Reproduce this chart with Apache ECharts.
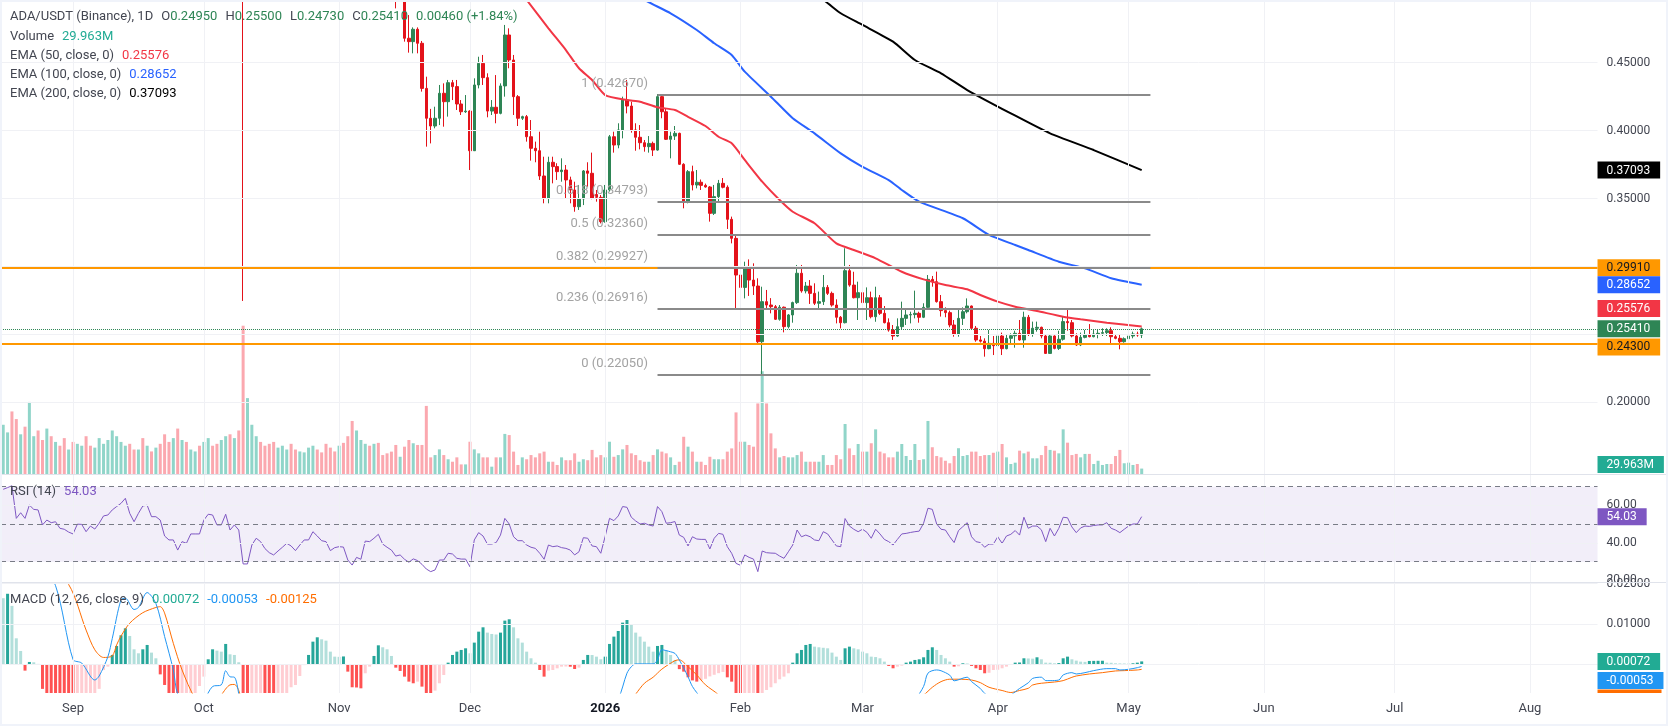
<!DOCTYPE html>
<html>
<head>
<meta charset="utf-8">
<script src="https://cdn.jsdelivr.net/npm/echarts@6/dist/echarts.min.js"></script>
<style>
  html, body { margin: 0; padding: 0; background: #fff; }
  #chart { position: absolute; left: 0; top: 0; width: 1668px; height: 726px; }
  #frame { position: absolute; left: 0; top: 0; width: 1668px; height: 726px; box-sizing: border-box; border: 2px solid #f0f3fa; pointer-events: none; }
</style>
</head>
<body>
<div id="chart"></div>
<div id="frame"></div>
<script>
// daily candles from 2025-08-16, [open, high, low, close]
const firstDay = '2025-08-16';
const axisDays = 366;

const candles = [
  [.920,.945,.915,.930],[.930,.955,.925,.948],[.948,.952,.905,.912],[.912,.918,.850,.862],[.862,.905,.858,.898],
  [.898,.910,.880,.889],[.889,.935,.885,.928],[.928,.940,.915,.932],[.932,.936,.900,.912],[.912,.915,.850,.862],
  [.862,.880,.855,.870],[.870,.878,.842,.852],[.852,.868,.845,.861],[.861,.864,.815,.823],[.823,.830,.808,.818],
  [.818,.828,.812,.822],[.822,.826,.790,.800],[.800,.825,.796,.818],[.818,.838,.812,.830],[.830,.834,.815,.822],
  [.822,.828,.810,.818],[.818,.826,.812,.820],[.820,.836,.814,.830],[.830,.866,.826,.860],[.860,.872,.852,.862],
  [.862,.880,.855,.872],[.872,.888,.865,.880],[.880,.910,.876,.902],[.902,.925,.895,.918],[.918,.920,.884,.892],
  [.892,.896,.862,.871],[.871,.886,.866,.880],[.880,.888,.870,.878],[.878,.920,.872,.912],[.912,.915,.862,.870],
  [.870,.884,.864,.878],[.878,.882,.852,.860],[.860,.862,.800,.810],[.810,.822,.798,.808],[.808,.828,.802,.820],
  [.820,.824,.765,.772],[.772,.796,.768,.790],[.790,.796,.780,.788],[.788,.814,.784,.808],[.808,.818,.800,.810],
  [.810,.814,.782,.790],[.790,.836,.786,.830],[.830,.860,.826,.852],[.852,.862,.840,.850],[.850,.854,.826,.832],
  [.832,.848,.828,.840],[.840,.876,.836,.868],[.868,.872,.815,.822],[.822,.836,.816,.828],[.828,.832,.782,.790],
  [.790,.800,.2746,.632],[.632,.690,.610,.662],[.662,.725,.655,.712],[.712,.730,.700,.718],[.718,.722,.690,.700],
  [.700,.706,.655,.662],[.662,.668,.630,.640],[.640,.648,.600,.612],[.612,.636,.606,.628],[.628,.650,.622,.642],
  [.642,.660,.636,.652],[.652,.656,.624,.630],[.630,.636,.610,.618],[.618,.646,.614,.640],[.640,.658,.634,.652],
  [.652,.668,.646,.662],[.662,.678,.656,.670],[.670,.674,.650,.658],[.658,.662,.634,.640],[.640,.648,.630,.638],
  [.638,.642,.605,.612],[.612,.618,.600,.608],[.608,.620,.602,.612],[.612,.615,.584,.590],[.590,.594,.545,.552],
  [.552,.560,.520,.540],[.540,.550,.530,.542],[.542,.560,.536,.552],[.552,.580,.548,.572],[.572,.582,.560,.568],
  [.568,.598,.562,.590],[.590,.594,.555,.562],[.562,.570,.535,.540],[.540,.548,.518,.525],[.525,.532,.500,.505],
  [.505,.512,.490,.500],[.500,.512,.4975,.508],[.508,.513,.4655,.4680],[.4680,.4851,.4574,.4655],[.4655,.4760,.4569,.4746],
  [.4746,.4760,.4569,.4643],[.4643,.4660,.4287,.4311],[.4311,.4397,.3882,.4091],[.4091,.4160,.3906,.4034],[.4034,.4176,.4017,.4091],
  [.4091,.4336,.4041,.4275],[.4275,.4348,.4029,.4213],[.4213,.4373,.4103,.4353],[.4353,.4373,.4225,.4324],[.4324,.4373,.4152,.4196],
  [.4196,.4225,.4115,.4139],[.4139,.4262,.4130,.4144],[.4144,.4150,.3710,.3852],[.3852,.4385,.3850,.4336],[.4336,.4544,.4311,.4495],
  [.4495,.4557,.4336,.4390],[.4390,.4422,.4098,.4144],[.4144,.4225,.4115,.4172],[.4172,.4409,.4054,.4127],[.4127,.4348,.4120,.4329],
  [.4329,.4778,.4250,.4704],[.4704,.4753,.4459,.4520],[.4520,.4557,.4115,.4250],[.4250,.4262,.4034,.4091],[.4091,.4110,.4078,.4103],
  [.4103,.4115,.3919,.3955],[.3955,.4078,.3779,.3870],[.3870,.3919,.3767,.3852],[.3852,.3992,.3637,.3666],[.3666,.3808,.3465,.3502],
  [.3502,.3808,.3465,.3767],[.3767,.3808,.3612,.3735],[.3735,.3760,.3637,.3698],[.3698,.3796,.3624,.3710],[.3710,.3747,.3502,.3637],
  [.3637,.3661,.3465,.3563],[.3563,.3624,.3403,.3440],[.3440,.3600,.3416,.3497],[.3497,.3710,.3452,.3703],[.3703,.3767,.3587,.3686],
  [.3686,.3838,.3495,.3502],[.3530,.3563,.3477,.3509],[.3509,.3526,.3317,.3330],[.3330,.3600,.3322,.3563],[.3563,.3968,.3551,.3955],
  [.3955,.3992,.3838,.3894],[.3894,.4054,.3870,.4005],[.4005,.4250,.3943,.4225],[.4225,.4373,.4127,.4181],[.4181,.4213,.3985,.4005],
  [.4005,.4054,.3852,.3951],[.3951,.4041,.3862,.3911],[.3911,.3931,.3845,.3882],[.3882,.3960,.3838,.3906],[.3906,.3919,.3813,.3857],
  [.3857,.4269,.3852,.4250],[.4250,.4262,.4091,.4139],[.4139,.4164,.3931,.3936],[.3936,.3992,.3796,.3960],[.3960,.4034,.3931,.3980],
  [.3980,.3985,.3747,.3752],[.3752,.3760,.3428,.3477],[.3477,.3710,.3465,.3698],[.3698,.3742,.3560,.3600],[.3600,.3710,.3575,.3620],
  [.3620,.3640,.3563,.3597],[.3597,.3610,.3580,.3585],[.3585,.3592,.3330,.3391],[.3391,.3600,.3379,.3514],[.3514,.3637,.3477,.3612],
  [.3612,.3651,.3575,.3583],[.3583,.3597,.3276,.3347],[.3347,.3367,.3170,.3207],[.3207,.3232,.2687,.2937],[.2937,.3011,.2790,.2846],
  [.2846,.3035,.2765,.2998],[.2998,.3052,.2783,.2900],[.2900,.3023,.2790,.2856],[.2856,.2913,.2434,.2446],[.2446,.2851,.2205,.2741],
  [.2741,.2827,.2680,.2716],[.2716,.2767,.2655,.2704],[.2704,.2716,.2606,.2611],[.2611,.2716,.2601,.2700],[.2700,.2705,.2515,.2557],
  [.2557,.2650,.2544,.2643],[.2643,.2741,.2586,.2734],[.2734,.3011,.2724,.2950],[.2950,.3011,.2807,.2820],[.2820,.2886,.2802,.2856],
  [.2856,.2900,.2724,.2802],[.2802,.2876,.2716,.2729],[.2729,.2815,.2680,.2741],[.2741,.2937,.2716,.2846],[.2846,.2863,.2790,.2802],
  [.2802,.2815,.2704,.2716],[.2716,.2758,.2581,.2626],[.2626,.2635,.2544,.2586],[.2586,.3134,.2581,.2969],[.2969,.3011,.2851,.2863],
  [.2863,.2961,.2765,.2770],[.2770,.2888,.2606,.2807],[.2807,.2851,.2716,.2734],[.2734,.2846,.2606,.2770],[.2770,.2815,.2618,.2630],
  [.2630,.2851,.2593,.2770],[.2770,.2790,.2643,.2655],[.2655,.2709,.2581,.2586],[.2586,.2618,.2520,.2532],[.2532,.2569,.2459,.2488],
  [.2488,.2618,.2483,.2557],[.2557,.2741,.2537,.2618],[.2618,.2680,.2569,.2643],[.2643,.2667,.2581,.2646],[.2646,.2822,.2618,.2655],
  [.2655,.2667,.2586,.2626],[.2626,.2729,.2620,.2699],[.2699,.2937,.2684,.2905],[.2905,.2930,.2851,.2888],[.2888,.2962,.2734,.2741],
  [.2741,.2790,.2631,.2675],[.2675,.2699,.2626,.2660],[.2660,.2675,.2552,.2569],[.2569,.2606,.2483,.2503],[.2503,.2680,.2483,.2618],
  [.2618,.2699,.2569,.2667],[.2667,.2765,.2655,.2709],[.2709,.2712,.2537,.2545],[.2545,.2562,.2446,.2459],[.2459,.2488,.2440,.2450],
  [.2450,.2471,.2336,.2395],[.2395,.2532,.2390,.2434],[.2434,.2488,.2348,.2417],[.2417,.2545,.2410,.2488],[.2488,.2513,.2348,.2395],
  [.2395,.2503,.2390,.2471],[.2471,.2508,.2434,.2490],[.2490,.2527,.2402,.2508],[.2508,.2606,.2454,.2459],[.2459,.2667,.2402,.2626],
  [.2626,.2643,.2488,.2503],[.2503,.2594,.2483,.2545],[.2545,.2594,.2520,.2552],[.2552,.2557,.2471,.2488],[.2488,.2495,.2356,.2360],
  [.2360,.2495,.2356,.2488],[.2488,.2493,.2390,.2397],[.2397,.2527,.2385,.2464],[.2464,.2635,.2454,.2594],[.2594,.2680,.2527,.2586],
  [.2586,.2606,.2478,.2488],[.2488,.2508,.2415,.2422],[.2422,.2513,.2414,.2478],[.2478,.2532,.2471,.2495],[.2495,.2576,.2478,.2483],
  [.2483,.2532,.2478,.2503],[.2503,.2537,.2471,.2508],[.2508,.2545,.2488,.2513],[.2513,.2545,.2488,.2527],[.2527,.2552,.2429,.2483],
  [.2483,.2503,.2464,.2471],[.2471,.2503,.2390,.2446],[.2446,.2478,.2439,.2468],[.2468,.2520,.2459,.2488],[.2488,.2520,.2471,.2503],
  [.2503,.2520,.2483,.2495],[.2495,.2550,.2473,.2541]
];

// volume in millions
const volumeM = [
  260,220,330,290,210,250,380,200,230,180, 240,200,170,150,190,130,170,160,150,200,
  150,140,190,160,180,230,200,170,150,160, 130,130,190,150,120,140,160,210,170,190,
  240,180,170,130,120,150,170,190,150,160, 180,200,210,190,230,780,400,260,200,170,
  150,160,170,140,150,130,160,130,120,115, 140,150,130,115,160,140,120,150,165,200,
  280,230,180,160,150,160,165,
  101,110,119,154,92,145,180,163,154,154, 359,89,101,131,101,79,66,89,52,52,
  171,131,110,89,89,40,89,89,212,206, 119,49,89,79,101,89,110,119,66,66,
  49,89,74,74,110,66,79,74,128,89, 101,89,171,92,101,131,154,110,101,74,
  66,66,101,131,119,110,89,49,66,197, 145,119,66,66,49,92,79,79,79,119,
  136,325,171,171,154,145,372,541,372,215, 136,89,96,89,89,101,119,66,66,66,
  66,101,49,49,101,79,264,136,101,159, 119,119,163,236,119,110,89,89,119,
  159,96,75,159,75,79,280,142,96,89, 71,58,96,137,96,101,119,119,96,101,
  101,113,119,159,89,54,61,124,110,119, 84,84,101,149,128,124,110,236,166,101,
  107,89,107,107,54,71,49,54,54,96, 128,58,61,49,54,29.963
];

const rsi14 = [
  68.6,69.5,70.5,53.1,56.1,53.1,60.2,57.9,57.6,49.6, 52.2,50.8,51.3,47.8,47.3,45.8,44.8,50.0,49.9,46.0,
  49.0,47.4,50.5,54.4,54.9,57.6,59.4,61.1,63.8,55.8, 51.3,55.8,59.7,60.1,54.0,54.0,52.2,43.7,41.6,41.6,
  36.2,40.7,39.8,44.8,44.8,44.8,52.2,55.3,54.9,49.6, 49.6,55.3,46.9,49.6,46.9,28.8,28.8,38.9,42.5,40.7,
  37.0,34.8,33.6,35.7,37.7,39.8,38.4,35.9,38.9,41.6, 41.6,46.0,43.7,41.2,40.7,35.9,37.5,38.0,37.8,30.9,
  28.2,32.3,31.3,41.0,40.7,42.5,44.6,39.4,37.7,36.2, 33.0,33.6,31.3,29.7,31.5,30.6,28.6,26.1,24.7,25.6,
  30.9,30.9,34.5,34.1,31.8,31.4,31.4,27.3,41.6,45.5, 43.7,39.4,39.4,40.2,44.2,53.1,50.1,43.3,41.2,41.2,
  38.9,37.7,37.1,34.5,31.3,38.9,38.0,38.4,37.5,37.1, 36.2,33.6,35.3,42.8,42.5,38.4,38.0,34.5,43.5,53.1,
  51.9,54.4,59.4,59.0,53.7,51.7,50.1,50.5,49.6,49.0, 59.4,56.7,50.5,50.8,51.4,44.2,43.0,38.4,43.3,42.1,
  41.9,41.9,36.8,42.5,45.1,44.6,38.0,34.5,29.1,28.1, 33.6,32.3,31.4,24.7,35.7,34.8,34.6,34.5,33.0,31.8,
  35.3,38.9,46.9,43.3,44.2,43.3,41.6,41.2,46.0,44.8, 41.6,38.4,38.0,53.0,49.0,47.3,46.0,47.3,45.7,42.5,
  47.3,44.8,41.9,40.7,38.9,41.9,44.8,45.1,45.6,46.0, 46.3,50.5,58.5,57.9,50.1,47.3,46.9,43.3,40.2,46.6,
  48.7,50.8,43.3,40.7,40.2,37.7,39.4,39.4,43.3,39.8, 43.7,44.6,46.6,44.2,53.7,47.8,49.0,49.0,47.0,40.7,
  47.8,43.7,47.8,53.7,53.4,48.5,45.5,48.0,49.0,48.8, 49.3,49.6,49.6,50.8,47.8,46.9,45.5,47.3,49.0,50.1,
  50.1,54.03
];

// MACD (12, 26, 9) values in thousandths
const macdHistMilli = [
  16.4,17.5,14.5,6.45,3.31,-1.57,0.58,0.5,0.1,-6.1, -8.5,-10.2,-11.6,-12.8,-13.9,-14.6,-15.1,-14.3,-13.2,-12.0,
  -10.6,-8.6,-6.1,-1.4,-0.58,2.32,4.55,7.2,8.93,7.03, 3.72,2.73,3.72,4.8,2.9,1.49,-2.5,-5.13,-8.5,-10.5,
  -12.0,-11.2,-10.0,-8.8,-7.6,-5.38,-3.06,1.24,3.72,3.39, 3.14,5.05,2.48,2.32,0.5,-9.0,-14.0,-13.0,-12.0,-11.0,
  -12.5,-13.5,-14.2,-13.0,-11.0,-8.5,-5.7,-5.13,-2.9,-0.2, 2.32,5.62,6.7,6.2,5.87,3.14,1.9,1.85,1.95,-1.82,
  -5.7,-5.75,-5.96,-2.23,-0.58,2.07,4.71,4.22,3.72,2.07, -0.83,-1.65,-3.06,-4.3,-4.71,-4.3,-5.54,-7.8,-8.2,-6.53,
  -4.71,-2.65,0.41,2.32,3.14,3.56,3.97,2.73,5.38,8.1, 9.18,7.86,7.53,7.4,7.86,10.84,11.17,9.18,6.45,5.38,
  3.14,1.49,0.41,-1.41,-3.06,-1.57,-1.41,-1.0,-0.58,-0.55, -0.6,-1.16,-0.83,1.08,2.32,2.3,1.9,1.24,1.9,5.05,
  6.87,8.27,10.34,11.0,9.76,7.86,6.87,5.62,4.38,3.14, 4.55,4.8,3.39,2.32,1.08,-1.2,-1.82,-3.23,-4.0,-4.3,
  -4.0,-3.6,-3.0,-2.6,-2.2,-1.9,-3.23,-4.3,-8.0,-9.5, -9.0,-8.6,-8.2,-10.0,-9.0,-6.37,-5.7,-4.71,-3.72,-3.06,
  -2.23,0.41,2.73,3.56,4.8,5.05,4.38,4.22,4.1,3.97, 2.9,1.9,1.08,3.97,4.38,3.97,3.72,3.14,2.73,1.9,
  1.8,1.49,0.66,-0.41,-0.99,-0.58,-0.33,0.41,0.66,1.08, 1.24,1.74,3.56,4.22,3.56,2.32,1.49,0.66,-0.58,-0.5,
  0.25,0.2,-0.41,-0.99,-1.41,-2.23,-2.1,-1.41,-1.35,-0.99, -0.58,-0.17,0.41,0.45,1.49,1.45,1.4,1.74,1.24,0.41,
  0.38,0.25,0.3,1.49,1.9,1.24,0.91,0.66,0.6,0.83, 0.85,0.87,0.88,0.41,0.38,0.25,0.22,0.2,0.18,0.25,
  0.41,0.72
];

// [day index, value in thousandths]
const macdLineMilli = [
  [0,38],[4,33],[8,26],[12,19.5],[16,1.2],[18,0.3],[21,-3.9],[22,-2.9],[24,1.9],[25,6.4],[27,16.0],[28,16.4],
  [30,13.6],[31,14.1],[33,17.8],[35,15.1],[37,6.9],[39,-1.4],[40,-7.4],[43,-13],[46,-9],[48,-5.5],[50,-5.1],
  [51,-1.6],[52,-3.1],[53,-3.2],[54,-7.4],[56,-22],[70,-40],[90,-35],[110,-30],[125,-20],[138,-12],[141,-8.5],
  [143,-2.2],[144,-0.6],[145,0.1],[149,0.1],[150,1.1],[151,3.6],[153,3.1],[154,2.7],[155,1.1],[157,-3.1],
  [158,-5.5],[160,-8.5],[170,-25],[190,-15],[205,-10],[209,-8.5],[211,-5.5],[212,-2.2],[214,-1.4],[215,-1.6],
  [217,-2.7],[218,-4.1],[221,-3.2],[222,-4.3],[224,-6.0],[225,-7.2],[228,-9],[231,-7.6],[233,-6.0],[235,-4.6],
  [236,-3.5],[238,-3.2],[239,-4.05],[240,-4.05],[242,-3.9],[243,-2.65],[245,-2.07],[246,-2.4],[248,-2.07],
  [250,-1.57],[253,-1.08],[255,-1.08],[256,-1.41],[258,-1.24],[260,-0.83],[261,-0.53]
];
const signalLineMilli = [
  [0,30],[5,28],[10,24],[15,19.8],[19,8.5],[21,3.6],[23,1.7],[25,2.1],[26,4.8],[27,7.0],[29,10.2],[32,12.8],
  [35,14.1],[36,14.3],[37,12.7],[39,5.2],[41,-1.4],[44,-8.5],[47,-12],[50,-7.6],[52,-5.1],[53,-5.0],[54,-6.5],
  [56,-14],[70,-35],[90,-36],[110,-33],[125,-24],[138,-17],[144,-9],[145,-7.4],[147,-4.7],[149,-3.2],[151,-1.2],
  [154,0.9],[155,1.1],[157,-0.6],[159,-2.65],[161,-5.1],[164,-7.6],[170,-15],[190,-14],[205,-11],[211,-7.6],
  [213,-5.7],[215,-4.3],[217,-3.7],[219,-3.7],[222,-3.9],[224,-4.55],[226,-5.7],[229,-6.5],[231,-7.0],[233,-6.5],
  [235,-5.96],[236,-5.13],[238,-4.7],[241,-4.4],[243,-4.05],[245,-3.23],[246,-2.9],[249,-2.4],[252,-2.07],
  [255,-1.65],[257,-1.57],[260,-1.41],[261,-1.25]
];

// EMA curves, [day index, price]
const ema50Points = [
  [116,0.5120],[120,0.4962],[125,0.4753],[129,0.4593],[132,0.4459],[135,0.4373],[138,0.4262],[143,0.4225],
  [146,0.4213],[150,0.4172],[154,0.4152],[157,0.4102],[161,0.4034],[164,0.3955],[167,0.3907],[170,0.3784],
  [174,0.3624],[178,0.3489],[181,0.3403],[186,0.3318],[191,0.3170],[195,0.3121],[200,0.3060],[206,0.2961],
  [211,0.2905],[216,0.2863],[221,0.2832],[224,0.2790],[228,0.2741],[232,0.2704],[237,0.2672],[243,0.2630],
  [247,0.2611],[253,0.2586],[261,0.25576]
];
const ema100Points = [
  [143,0.5050],[147,0.4962],[153,0.4864],[159,0.4741],[163,0.4643],[167,0.4557],[170,0.4434],[176,0.4250],
  [181,0.4091],[186,0.3980],[192,0.3833],[197,0.3734],[203,0.3636],[206,0.3563],[210,0.3477],[220,0.3355],
  [226,0.3232],[232,0.3158],[235,0.3121],[242,0.3035],[248,0.2986],[254,0.2913],[261,0.28652]
];
const ema200Points = [
  [183,0.5040],[188,0.4962],[192,0.4864],[197,0.4778],[204,0.4655],[209,0.4520],[215,0.4422],[221,0.4299],
  [231,0.4127],[240,0.3980],[250,0.3857],[261,0.37093]
];

// drawings
const fibLevels = [1, 0.618, 0.5, 0.382, 0.236, 0];
const fibPrices = [0.42670, 0.34793, 0.32360, 0.29927, 0.26916, 0.22050];
const fibStart = '2026-01-13';
const fibEnd = '2026-05-06';
const hLevels = [0.29910, 0.24300];

// axis ticks
const priceTicks = [0.20, 0.35, 0.40, 0.45];
const priceGridLines = [0.20, 0.25, 0.30, 0.35, 0.40, 0.45];
const rsiTicks = [20, 40, 60];
const macdTicks = [0.01, 0.02];
const macdGridLines = [0, 0.01, 0.02];

const FONT = 'Roboto, "Noto Sans", sans-serif';
const UP = '#2e8555';
const DOWN = '#e3121a';
const VOL_UP = 'rgba(34,171,148,0.5)';
const VOL_DOWN = 'rgba(247,82,95,0.5)';
const GRID_COLOR = '#f0f1f5';
const AXIS_TEXT = '#434651';
const LEGEND_TEXT = '#434651';
const ORANGE = '#ff9800';
const MONTHS = ['Jan', 'Feb', 'Mar', 'Apr', 'May', 'Jun', 'Jul', 'Aug', 'Sep', 'Oct', 'Nov', 'Dec'];

const dayMs = 86400000;
const t0 = Date.parse(firstDay + 'T00:00:00Z');
const dates = [];
for (let i = 0; i < axisDays; i++) {
  dates.push(new Date(t0 + i * dayMs).toISOString().slice(0, 10));
}
const monthStarts = dates.filter((d) => d.endsWith('-01'));

// pane layout (px) and scales
const GRID_LEFT = 1.03;
const GRID_WIDTH = axisDays * 4.362;
const panes = [
  { top: 0, height: 474.3, min: 0.14700, max: 0.49616 },     // price
  { top: 274.3, height: 200, min: 0, max: 1050 },             // volume overlay
  { top: 474.3, height: 108.4, min: 18.8, max: 76.6 },        // rsi
  { top: 582.7, height: 110.3, min: -0.007122, max: 0.020248 } // macd
];
// move a value by some pixels on a pane's scale (for nudging value boxes)
const nudge = (pane, value, px) => value - px * (panes[pane].max - panes[pane].min) / panes[pane].height;

const last = candles[candles.length - 1];
const prevClose = candles[candles.length - 2][3];
const lastClose = last[3];
const lastOf = (pts) => pts[pts.length - 1][1];
const ema50Last = lastOf(ema50Points);
const ema100Last = lastOf(ema100Points);
const ema200Last = lastOf(ema200Points);
const rsiLast = rsi14[rsi14.length - 1];
const histLast = macdHistMilli[macdHistMilli.length - 1] / 1000;
const macdLast = lastOf(macdLineMilli) / 1000;
const signalLast = lastOf(signalLineMilli) / 1000;
const volLast = volumeM[volumeM.length - 1];

const hidden = { color: 'rgba(0,0,0,0)', width: 0 };

// value box on the right-hand scale
function valueBox(y, text, bg, fg, extra) {
  return {
    yAxis: y,
    lineStyle: hidden,
    label: {
      show: true, position: 'end', distance: 0,
      formatter: '{b|' + text + '}',
      rich: {
        b: Object.assign({
          backgroundColor: bg, color: fg, fontFamily: FONT, fontSize: 12, lineHeight: 12,
          padding: [3, 10, 2, 9]
        }, extra || {})
      }
    }
  };
}

// precision is raised so small MACD / price values are not rounded to 2 decimals
function marks(data) {
  return { silent: true, symbol: ['none', 'none'], animation: false, precision: 10, label: { show: false }, data };
}

function gridMarkLine(values) {
  const data = values.map((v) => ({ yAxis: v }));
  monthStarts.forEach((d) => data.push({ xAxis: d }));
  return {
    silent: true, symbol: ['none', 'none'], animation: false, precision: 10,
    label: { show: false },
    lineStyle: { color: GRID_COLOR, width: 1, type: 'solid' },
    data
  };
}

function histColor(i) {
  const v = macdHistMilli[i];
  const p = i > 0 ? macdHistMilli[i - 1] : v;
  if (v >= 0) return v > p ? '#26a69a' : '#b2dfdb';
  return v < p ? '#ff5252' : '#ffcdd2';
}

function xAxisFor(gridIndex) {
  const withLabels = gridIndex === 3;
  return {
    type: 'category', gridIndex, data: dates, boundaryGap: true,
    axisLine: { show: false }, axisTick: { show: false }, splitLine: { show: false },
    axisLabel: withLabels ? {
      show: true,
      interval: (i) => dates[i].endsWith('-01'),
      formatter: (v) => {
        const m = +v.slice(5, 7);
        return m === 1 ? '{y|' + v.slice(0, 4) + '}' : MONTHS[m - 1];
      },
      color: AXIS_TEXT, fontFamily: FONT, fontSize: 13, margin: 9,
      rich: { y: { fontWeight: 'bold', color: '#131722', fontFamily: FONT, fontSize: 13 } }
    } : { show: false }
  };
}

function yAxisFor(gridIndex, ticks, digits) {
  return {
    type: 'value', gridIndex, position: 'right', min: panes[gridIndex].min, max: panes[gridIndex].max,
    axisLine: { show: false }, axisTick: { show: false }, splitLine: { show: false },
    axisLabel: ticks ? {
      show: true, customValues: ticks, formatter: (v) => v.toFixed(digits),
      color: AXIS_TEXT, fontFamily: FONT, fontSize: 12, margin: 9
    } : { show: false }
  };
}

// fib retracement: grey segments, labels sit ~11px above each segment start
const fibMarks = [];
fibLevels.forEach((lvl, i) => {
  const p = fibPrices[i];
  const style = { color: '#8a8a8a', width: 2, type: 'solid' };
  fibMarks.push([
    { coord: [fibStart, p], lineStyle: style, label: { show: false } },
    { coord: [fibEnd, p], lineStyle: style, label: { show: false } }
  ]);
  const ly = nudge(0, p, -10.7);
  const label = {
    show: true, position: 'start', distance: 9.5,
    formatter: lvl + ' (' + p.toFixed(5) + ')',
    color: '#a3a3a3', fontFamily: FONT, fontSize: 13
  };
  fibMarks.push([
    { coord: [fibStart, ly], lineStyle: hidden, label },
    { coord: [fibEnd, ly], lineStyle: hidden, label }
  ]);
});

const option = {
  animation: false,
  textStyle: { fontFamily: FONT },
  grid: panes.map((p) => ({ left: GRID_LEFT, width: GRID_WIDTH, top: p.top, height: p.height })),
  xAxis: [0, 1, 2, 3].map(xAxisFor),
  yAxis: [
    yAxisFor(0, priceTicks, 5),
    yAxisFor(1, null, 0),
    yAxisFor(2, rsiTicks, 2),
    yAxisFor(3, macdTicks, 5)
  ],
  series: [
    { type: 'line', xAxisIndex: 0, yAxisIndex: 0, data: [], z: 0, silent: true, markLine: gridMarkLine(priceGridLines) },
    { type: 'line', xAxisIndex: 2, yAxisIndex: 2, data: [], z: 0, silent: true, markLine: gridMarkLine([40, 60]) },
    { type: 'line', xAxisIndex: 3, yAxisIndex: 3, data: [], z: 0, silent: true, markLine: gridMarkLine(macdGridLines) },
    {
      name: 'Volume', type: 'bar', xAxisIndex: 1, yAxisIndex: 1, barWidth: 3, z: 1,
      data: volumeM.map((v, i) => ({
        value: v,
        itemStyle: { color: candles[i][3] >= candles[i][0] ? VOL_UP : VOL_DOWN }
      })),
      markLine: marks([valueBox(nudge(1, volLast, -4), volLast.toFixed(3) + 'M', '#22ab94', '#fff')])
    },
    {
      name: 'ADA/USDT', type: 'candlestick', xAxisIndex: 0, yAxisIndex: 0, barWidth: 3, z: 3,
      data: candles.map(([o, h, l, c]) => [o, c, l, h]),
      itemStyle: { color: UP, color0: DOWN, borderColor: UP, borderColor0: DOWN, borderColorDoji: UP, borderWidth: 1 },
      markLine: marks([
        { yAxis: hLevels[0], lineStyle: { color: ORANGE, width: 2, type: 'solid' } },
        { yAxis: hLevels[1], lineStyle: { color: ORANGE, width: 2, type: 'solid' } },
        { yAxis: lastClose, lineStyle: { color: UP, width: 1, type: 'dotted' } },
        valueBox(hLevels[0], hLevels[0].toFixed(5), ORANGE, '#131722'),
        valueBox(nudge(0, hLevels[1], 3), hLevels[1].toFixed(5), ORANGE, '#131722'),
        valueBox(lastClose, lastClose.toFixed(5), UP, '#fff')
      ].concat(fibMarks))
    },
    {
      name: 'EMA 200', type: 'line', xAxisIndex: 0, yAxisIndex: 0, data: ema200Points, z: 4,
      showSymbol: false, smooth: 0.2, lineStyle: { color: '#000', width: 2 },
      markLine: marks([valueBox(ema200Last, ema200Last.toFixed(5), '#000', '#fff')])
    },
    {
      name: 'EMA 100', type: 'line', xAxisIndex: 0, yAxisIndex: 0, data: ema100Points, z: 4,
      showSymbol: false, smooth: 0.2, lineStyle: { color: '#2962ff', width: 2 },
      markLine: marks([valueBox(ema100Last, ema100Last.toFixed(5), '#2962ff', '#fff')])
    },
    {
      name: 'EMA 50', type: 'line', xAxisIndex: 0, yAxisIndex: 0, data: ema50Points, z: 4,
      showSymbol: false, smooth: 0.2, lineStyle: { color: '#f23645', width: 2 },
      markLine: marks([valueBox(nudge(0, ema50Last, -18), ema50Last.toFixed(5), '#f23645', '#fff')])
    },
    {
      name: 'RSI', type: 'line', xAxisIndex: 2, yAxisIndex: 2, data: rsi14, z: 3,
      showSymbol: false, lineStyle: { color: '#7e57c2', width: 1 },
      markArea: {
        silent: true,
        itemStyle: { color: 'rgba(126,87,194,0.1)' },
        data: [[{ yAxis: 30 }, { yAxis: 70 }]]
      },
      markLine: marks([70, 50, 30].map((v) => ({ yAxis: v, lineStyle: { color: '#787b86', width: 1, type: [5, 4] } }))
        .concat([valueBox(rsiLast, rsiLast.toFixed(2), '#7e57c2', '#fff')]))
    },
    {
      name: 'Histogram', type: 'bar', xAxisIndex: 3, yAxisIndex: 3, barWidth: 3, z: 2,
      data: macdHistMilli.map((v, i) => ({ value: v / 1000, itemStyle: { color: histColor(i) } })),
      markLine: marks([valueBox(histLast, histLast.toFixed(5), '#22ab94', '#fff')])
    },
    {
      name: 'Signal', type: 'line', xAxisIndex: 3, yAxisIndex: 3, z: 3,
      data: signalLineMilli.map(([i, v]) => [i, v / 1000]),
      showSymbol: false, smooth: 0.3, lineStyle: { color: '#ff6d00', width: 1 },
      // only a sliver of this box shows under the MACD box at the pane bottom
      markLine: marks([valueBox(nudge(3, signalLast, 22), ' ', '#ff6d00', '#ff6d00',
        { fontSize: 1, lineHeight: 3.5, height: 3.5, width: 45, padding: [0, 10, 0, 9] })])
    },
    {
      name: 'MACD', type: 'line', xAxisIndex: 3, yAxisIndex: 3, z: 4,
      data: macdLineMilli.map(([i, v]) => [i, v / 1000]),
      showSymbol: false, smooth: 0.3, lineStyle: { color: '#2196f3', width: 1 },
      markLine: marks([valueBox(nudge(3, macdLast, 14), macdLast.toFixed(5), '#2196f3', '#fff')])
    }
  ],
  graphic: { elements: [] }
};

// legends
const f5 = (v) => v.toFixed(5);
const change = lastClose - prevClose;
const pct = change / prevClose * 100;
const tok = (color, padRight) => ({ fill: color, color, fontFamily: FONT, fontSize: 13, padding: [0, padRight || 0, 0, 0] });
const legendRich = {
  t: tok(LEGEND_TEXT, 8),
  k: tok(LEGEND_TEXT, 0),
  v: tok(UP, 8),
  vol: tok('#22ab94', 0),
  r: tok('#f23645', 0),
  bl: tok('#2962ff', 0),
  bk: tok('#000', 0),
  p: tok('#7e57c2', 0),
  g: tok('#22ab94', 8),
  m: tok('#2196f3', 8),
  o: tok('#ff6d00', 0)
};
function legend(y, text) {
  return {
    type: 'text', x: 10, y, z: 100, silent: true,
    style: { text, rich: legendRich, fontFamily: FONT, fontSize: 13, fill: LEGEND_TEXT, verticalAlign: 'middle' }
  };
}
option.graphic.elements.push(
  legend(17,
    '{t|ADA/USDT (Binance), 1D}{k|O}{v|' + f5(last[0]) + '}{k|H}{v|' + f5(last[1]) + '}{k|L}{v|' + f5(last[2]) +
    '}{k|C}{v|' + f5(last[3]) + '}{v|' + f5(change) + ' (+' + pct.toFixed(2) + '%)}'),
  legend(37, '{t|Volume}{vol|' + volLast.toFixed(3) + 'M}'),
  legend(56, '{t|EMA (50, close, 0)}{r|' + f5(ema50Last) + '}'),
  legend(75, '{t|EMA (100, close, 0)}{bl|' + f5(ema100Last) + '}'),
  legend(94, '{t|EMA (200, close, 0)}{bk|' + f5(ema200Last) + '}'),
  legend(492, '{t|RSI (14)}{p|' + rsiLast.toFixed(2) + '}'),
  legend(600, '{t|MACD (12, 26, close, 9)}{g|' + f5(histLast) + '}{m|' + f5(macdLast) + '}{o|' + f5(signalLast) + '}'),
  // pane separators
  { type: 'line', z: 50, silent: true, shape: { x1: 0, y1: 474.5, x2: 1668, y2: 474.5 }, style: { stroke: '#e0e3eb', lineWidth: 1 } },
  { type: 'line', z: 50, silent: true, shape: { x1: 0, y1: 582.5, x2: 1668, y2: 582.5 }, style: { stroke: '#e0e3eb', lineWidth: 1 } }
);

const chart = echarts.init(document.getElementById('chart'), null, { renderer: 'canvas' });
chart.setOption(option);
</script>
</body>
</html>
